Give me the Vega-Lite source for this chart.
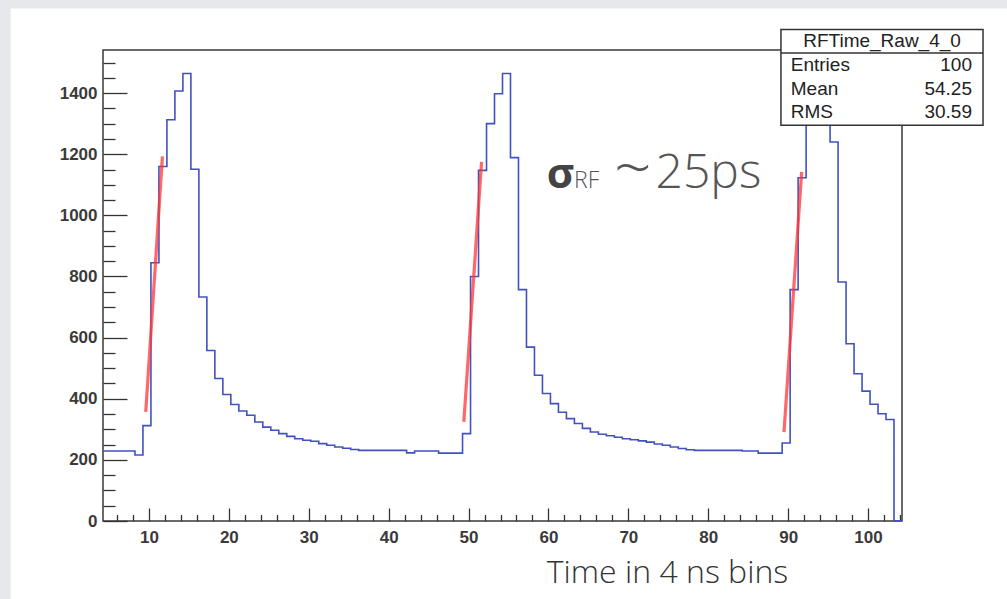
{
  "$schema": "https://vega.github.io/schema/vega-lite/v6.json",
  "width": 799,
  "height": 471,
  "autosize": {"type": "none"},
  "padding": {"left": 103, "top": 50, "right": 105, "bottom": 78},
  "background": "white",
  "config": {
    "view": {"stroke": "#3a3a3a", "strokeWidth": 1.5},
    "axis": {"grid": false, "domain": false, "tickColor": "#333", "tickWidth": 1.3, "labelFont": "Liberation Sans", "labelFontSize": 17, "labelFontWeight": "bold", "labelColor": "#3a3a3a"}
  },
  "datasets": {
    "hist": [
      {"t": 4.25, "n": 229}, {"t": 5.25, "n": 229}, {"t": 6.25, "n": 229}, {"t": 7.25, "n": 229},
      {"t": 8.25, "n": 216}, {"t": 9.25, "n": 312}, {"t": 10.25, "n": 845}, {"t": 11.25, "n": 1160},
      {"t": 12.25, "n": 1313}, {"t": 13.25, "n": 1407}, {"t": 14.25, "n": 1464}, {"t": 15.25, "n": 1151},
      {"t": 16.25, "n": 733}, {"t": 17.25, "n": 558}, {"t": 18.25, "n": 466}, {"t": 19.25, "n": 414},
      {"t": 20.25, "n": 381}, {"t": 21.25, "n": 360}, {"t": 22.25, "n": 346}, {"t": 23.25, "n": 324},
      {"t": 24.25, "n": 307}, {"t": 25.25, "n": 297}, {"t": 26.25, "n": 286}, {"t": 27.25, "n": 277},
      {"t": 28.25, "n": 269}, {"t": 29.25, "n": 264}, {"t": 30.25, "n": 261}, {"t": 31.25, "n": 253},
      {"t": 32.25, "n": 248}, {"t": 33.25, "n": 242}, {"t": 34.25, "n": 238}, {"t": 35.25, "n": 234},
      {"t": 36.25, "n": 231}, {"t": 37.25, "n": 231}, {"t": 38.25, "n": 231}, {"t": 39.25, "n": 231},
      {"t": 40.25, "n": 231}, {"t": 41.25, "n": 231}, {"t": 42.25, "n": 223}, {"t": 43.25, "n": 229},
      {"t": 44.25, "n": 229}, {"t": 45.25, "n": 229}, {"t": 46.25, "n": 222}, {"t": 47.25, "n": 222},
      {"t": 48.25, "n": 222}, {"t": 49.25, "n": 286}, {"t": 50.25, "n": 800}, {"t": 51.25, "n": 1147},
      {"t": 52.25, "n": 1300}, {"t": 53.25, "n": 1398}, {"t": 54.25, "n": 1464}, {"t": 55.25, "n": 1189},
      {"t": 56.25, "n": 757}, {"t": 57.25, "n": 569}, {"t": 58.25, "n": 477}, {"t": 59.25, "n": 417},
      {"t": 60.25, "n": 384}, {"t": 61.25, "n": 356}, {"t": 62.25, "n": 335}, {"t": 63.25, "n": 319},
      {"t": 64.25, "n": 303}, {"t": 65.25, "n": 291}, {"t": 66.25, "n": 284}, {"t": 67.25, "n": 279},
      {"t": 68.25, "n": 274}, {"t": 69.25, "n": 269}, {"t": 70.25, "n": 266}, {"t": 71.25, "n": 262},
      {"t": 72.25, "n": 258}, {"t": 73.25, "n": 252}, {"t": 74.25, "n": 248}, {"t": 75.25, "n": 242},
      {"t": 76.25, "n": 237}, {"t": 77.25, "n": 233}, {"t": 78.25, "n": 231}, {"t": 79.25, "n": 231},
      {"t": 80.25, "n": 231}, {"t": 81.25, "n": 231}, {"t": 82.25, "n": 231}, {"t": 83.25, "n": 231},
      {"t": 84.25, "n": 229}, {"t": 85.25, "n": 229}, {"t": 86.25, "n": 222}, {"t": 87.25, "n": 222},
      {"t": 88.25, "n": 222}, {"t": 89.25, "n": 255}, {"t": 90.25, "n": 757}, {"t": 91.25, "n": 1123},
      {"t": 92.25, "n": 1300}, {"t": 93.25, "n": 1400}, {"t": 94.25, "n": 1460}, {"t": 95.25, "n": 1240},
      {"t": 96.25, "n": 782}, {"t": 97.25, "n": 580}, {"t": 98.25, "n": 482}, {"t": 99.25, "n": 425},
      {"t": 100.25, "n": 382}, {"t": 101.25, "n": 351}, {"t": 102.25, "n": 332}, {"t": 103.25, "n": 0},
      {"t": 104.25, "n": 0}
    ],
    "fit": [
      {"fit": "a", "t": 9.6, "n": 357}, {"fit": "a", "t": 11.69, "n": 1193},
      {"fit": "b", "t": 49.41, "n": 324}, {"fit": "b", "t": 51.63, "n": 1175},
      {"fit": "c", "t": 89.48, "n": 291}, {"fit": "c", "t": 91.69, "n": 1142}
    ]
  },
  "resolve": {"axis": {"x": "independent", "y": "independent"}},
  "layer": [
    {
      "data": {"values": [{}]},
      "mark": {"type": "rect", "fill": "#e6e8ec"},
      "encoding": {
        "x": {"datum": -40, "type": "quantitative", "axis": null},
        "x2": {"datum": -7.31},
        "y": {"datum": -400, "type": "quantitative", "axis": null},
        "y2": {"datum": 1900}
      }
    },
    {
      "data": {"values": [{}]},
      "mark": {"type": "rect", "fill": "#e6e8ec"},
      "encoding": {
        "x": {"datum": -40, "type": "quantitative", "axis": null},
        "x2": {"datum": 130},
        "y": {"datum": 1677, "type": "quantitative", "axis": null},
        "y2": {"datum": 1900}
      }
    },
    {
      "data": {"name": "hist"},
      "mark": {"type": "line", "interpolate": "step-after", "color": "#4151c0", "strokeWidth": 1.6},
      "encoding": {
        "x": {
          "field": "t", "type": "quantitative",
          "scale": {"domain": [4.25, 104.25], "nice": false, "zero": false},
          "axis": {
            "orient": "bottom", "values": [10, 20, 30, 40, 50, 60, 70, 80, 90, 100], "format": "d",
            "tickSize": -13, "labelPadding": 21,
            "title": "Time in 4 ns bins", "titleFont": "Open Sans", "titleFontWeight": 300, "titleFontSize": 32, "titleColor": "#333",
            "titleX": 564, "titleY": 61, "titleAlign": "center", "titleBaseline": "alphabetic"
          }
        },
        "y": {
          "field": "n", "type": "quantitative",
          "scale": {"domain": [0, 1541], "nice": false, "zero": false},
          "axis": {
            "orient": "left", "values": [0, 200, 400, 600, 800, 1000, 1200, 1400], "format": "d",
            "tickSize": -24, "labelPadding": 30, "title": null
          }
        }
      }
    },
    {
      "data": {"name": "fit"},
      "mark": {"type": "line", "color": "#ff3535", "opacity": 0.75, "strokeWidth": 3.2},
      "encoding": {
        "detail": {"field": "fit"},
        "x": {
          "field": "t", "type": "quantitative",
          "axis": {"orient": "bottom", "values": [6, 8, 12, 14, 16, 18, 22, 24, 26, 28, 32, 34, 36, 38, 42, 44, 46, 48, 52, 54, 56, 58, 62, 64, 66, 68, 72, 74, 76, 78, 82, 84, 86, 88, 92, 94, 96, 98, 102, 104], "tickSize": -6.5, "labels": false, "title": null}
        },
        "y": {
          "field": "n", "type": "quantitative",
          "axis": {"orient": "left", "values": [50, 100, 150, 250, 300, 350, 450, 500, 550, 650, 700, 750, 850, 900, 950, 1050, 1100, 1150, 1250, 1300, 1350, 1450, 1500], "tickSize": -12, "labels": false, "title": null}
        }
      }
    },
    {
      "data": {"values": [{}]},
      "mark": {"type": "rect", "fill": "white", "stroke": "#333", "strokeWidth": 1.5},
      "encoding": {
        "x": {"datum": 89.1, "type": "quantitative", "axis": null},
        "x2": {"datum": 114.39},
        "y": {"datum": 1608.4, "type": "quantitative", "axis": null},
        "y2": {"datum": 1294.4}
      }
    },
    {
      "data": {"values": [{}]},
      "mark": {"type": "rule", "stroke": "#333", "strokeWidth": 1.5},
      "encoding": {
        "x": {"datum": 89.1, "type": "quantitative", "axis": null},
        "x2": {"datum": 114.39},
        "y": {"datum": 1531, "type": "quantitative", "axis": null}
      }
    },
    {
      "data": {"values": [{"label": "RFTime_Raw_4_0", "px": 101.75, "py": 1569}]},
      "mark": {"type": "text", "font": "Liberation Sans", "fontSize": 19, "color": "#222", "align": "center", "baseline": "middle"},
      "encoding": {
        "x": {"field": "px", "type": "quantitative", "axis": null},
        "y": {"field": "py", "type": "quantitative", "axis": null},
        "text": {"field": "label"}
      }
    },
    {
      "data": {"values": [{"label": "Entries", "py": 1492}, {"label": "Mean", "py": 1415}, {"label": "RMS", "py": 1337}]},
      "mark": {"type": "text", "font": "Liberation Sans", "fontSize": 19, "color": "#222", "align": "left", "baseline": "middle"},
      "encoding": {
        "x": {"datum": 90.33, "type": "quantitative", "axis": null},
        "y": {"field": "py", "type": "quantitative", "axis": null},
        "text": {"field": "label"}
      }
    },
    {
      "data": {"values": [{"v": "100", "py": 1492}, {"v": "54.25", "py": 1415}, {"v": "30.59", "py": 1337}]},
      "mark": {"type": "text", "font": "Liberation Sans", "fontSize": 19, "color": "#222", "align": "right", "baseline": "middle"},
      "encoding": {
        "x": {"datum": 113.01, "type": "quantitative", "axis": null},
        "y": {"field": "py", "type": "quantitative", "axis": null},
        "text": {"field": "v"}
      }
    },
    {
      "data": {"values": [{}]},
      "mark": {"type": "text", "text": "σ", "font": "Open Sans", "fontWeight": "bold", "fontSize": 42, "color": "#444", "align": "left", "baseline": "alphabetic"},
      "encoding": {
        "x": {"datum": 59.8, "type": "quantitative", "axis": null},
        "y": {"datum": 1091, "type": "quantitative", "axis": null}
      }
    },
    {
      "data": {"values": [{}]},
      "mark": {"type": "text", "text": "RF", "font": "Open Sans", "fontWeight": 300, "fontSize": 23, "color": "#555", "align": "left", "baseline": "alphabetic"},
      "encoding": {
        "x": {"datum": 63.2, "type": "quantitative", "axis": null},
        "y": {"datum": 1090, "type": "quantitative", "axis": null}
      }
    },
    {
      "data": {"values": [{}]},
      "mark": {"type": "text", "text": "~", "font": "Open Sans", "fontWeight": 300, "fontSize": 66, "color": "#555", "align": "left", "baseline": "alphabetic"},
      "encoding": {
        "x": {"datum": 68.2, "type": "quantitative", "axis": null},
        "y": {"datum": 1080, "type": "quantitative", "axis": null}
      }
    },
    {
      "data": {"values": [{}]},
      "mark": {"type": "text", "text": "25ps", "font": "Open Sans", "fontWeight": 300, "fontSize": 48, "color": "#555", "align": "left", "baseline": "alphabetic"},
      "encoding": {
        "x": {"datum": 73.4, "type": "quantitative", "axis": null},
        "y": {"datum": 1091, "type": "quantitative", "axis": null}
      }
    }
  ]
}
